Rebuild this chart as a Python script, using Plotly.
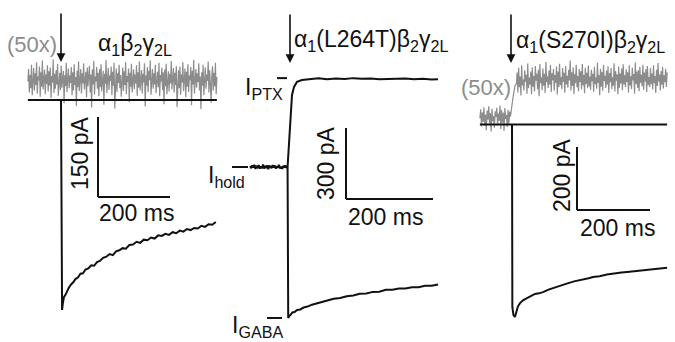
import numpy as np
import plotly.graph_objects as go

W, H = 675, 342

# ---------------- data (time in ms, current in pA) ----------------
# Panel 1: alpha1 beta2 gamma2L  (grey = 50x amplified record)
p1_gray_i = [35,58,14,47,22,66,9,41,60,18,50,28,71,12,44,37,63,6,52,25,74,20,39,57,11,48,30,65,16,54,
             27,61,4,45,33,76,13,49,21,56,29,68,8,42,51,19,64,23,38,55,-6,47,26,70,15,40,59,22,46,32,
             62,9,52,18,67,28,43,-11,55,24,72,17,36,58,12,50,31,69,20,45,53,5,61,26,41,64,14,48,-14,57,
             29,73,10,44,35,62,21,51,7,58,24,67,16,39,55,-9,49,30,75,13,42,60,19,46,36,63,9,53,27,70,
             -16,40,59,15,50,32,66,22,47,6,38,61,17,54,28,71,11,45,34,59,-4,51,25,68,14,43,57,20,48,31,
             65,8,52,23,72,18,41,56,12,49,33,69,-12,46,27,62,15,55,37,74,10,44,58,21,50,29,66,13,40,53,
             24,70,7,47,35,61,19,52,-8,57,26,68,11,43,54,16,49,31,73,20,38,60,14,51,28,64,-13,45,56,22,
             63,10,48,33,71,17,42,59,5,53,25,67,15,46,37,62,-10,55,29,75,12,41,58,23,50,34,69,18,44,-17,
             52,27,66,9,39,61,21,48,36,72,14,56,30,-5,45,63,18,51,26,70,11,43]
p1_gray_span = [-92, 433]
p1_base_span = [-92, 433]
p1_t = [0, 3, 5, 8, 12, 17, 22, 28, 34, 40, 47, 54, 61, 68, 76, 84, 92, 100, 108, 117, 126, 135, 144,
        153, 162, 171, 180, 190, 200, 210, 220, 230, 240, 250, 260, 270, 280, 290, 300, 310, 320,
        330, 340, 350, 360, 370, 380, 390, 400, 410, 420, 430]
p1_i = [0, -394, -382, -370, -366, -358, -352, -346, -342, -336, -333, -326, -325, -318, -316, -310,
        -311, -304, -302, -296, -294, -289, -291, -284, -282, -278, -279, -272, -271, -266, -268,
        -262, -263, -258, -260, -254, -255, -251, -253, -248, -250, -245, -247, -242, -244, -240,
        -241, -236, -238, -233, -234, -229]

# Panel 2: alpha1(L264T) beta2 gamma2L
p2_hold_i = [4,-5,7,-3,9,-8,5,-1,8,-7,3,-6,10,-6,2,-4,7,-9,6,0,-5,8,-2,6,-7,4,-3,9,-6,1,-8,5,-2,7,-4,2]
p2_hold_span = [-87, -1]
p2_gaba_t = [-1, 0.5, 3, 6, 10, 15, 21, 28, 36, 45, 55, 65, 75, 90, 105, 120, 135, 150, 165, 180, 195,
             210, 225, 240, 255, 270, 285, 300, 315, 330, 345]
p2_gaba_i = [0, -637, -628, -624, -614, -612, -603, -601, -593, -589, -581, -576, -569, -564, -556,
             -553, -545, -542, -535, -534, -527, -526, -518, -518, -513, -513, -507, -507, -501,
             -501, -496]
p2_ptx_t = [-1, 2.3, 4.6, 6.9, 9.2, 13.8, 20.7, 32, 51, 70, 90, 110, 130, 150, 170, 190, 210, 230,
            250, 270, 290, 310, 330, 345]
p2_ptx_i = [0, 114, 198, 262, 304, 338, 359, 367, 371, 374, 370, 373, 371, 375, 372, 373, 370, 372,
            371, 373, 370, 372, 369, 370]
p2_levels = {"PTX": 375, "hold": 0, "GABA": -637}

# Panel 3: alpha1(S270I) beta2 gamma2L  (grey = 50x amplified record)
p3_gray_pre = [20,48,-6,39,8,55,-2,32,-18,44,15,58,3,36,-22,50,10,27,-10,42,
               24,53,-4,35,12,60,-14,46,6,38,-20,52,18,30,-8,47,2,41,26,57]
p3_gray_pre_span = [-88, -2]
p3_gray_rise_t = [0, 4, 8]
p3_gray_rise = [62, 95, 122]
p3_gray_post = [130,165,102,180,118,152,92,188,124,143,108,172,136,158,98,194,115,148,127,168,
                96,182,120,154,105,186,139,162,112,174,90,192,131,150,109,178,123,161,100,198,
                134,153,116,171,126,189,103,163,141,176,107,157,133,184,95,168,119,193,125,151,
                113,179,136,164,101,186,127,155,117,173,140,203,108,166,122,181,97,160,131,190,
                118,154,106,176,135,169,111,192,124,158,99,180,129,164,115,187,121,152,110,174,
                137,161,104,183,128,149,114,196,132,157,93,177,120,167,107,189,138,155,116,171,
                126,185,100,163,134,179,112,150,123,194,105,170,139,159,96,184,117,162,130,178,
                109,191,127,156,119,175,135,166,102,188,124,153,113,181,140,160,98,197,129,168,
                116,172,106,183,133,158,121,190,110,165,137,176,103,186,125,151,118,179,128,162,
                111,188,131,154,100,174,122,195,136,159,108,170,126,183,114,156,134,177,119,166]
p3_gray_post_span = [12, 425]
p3_base_span = [-88, 425]
p3_t = [0, 1, 4, 8, 12, 16, 22, 30, 41, 52, 63, 74, 85, 100, 115, 132, 150, 170, 190, 210, 222, 240,
        260, 280, 300, 315, 335, 355, 375, 395, 410, 425]
p3_i = [0, -580, -605, -611, -595, -578, -567, -558, -551, -545, -538, -536, -532, -524, -518, -510,
        -505, -498, -494, -488, -484, -482, -476, -474, -470, -468, -466, -462, -461, -458, -458,
        -455]

# scale bars (ms, pA)
scale_ms = [200, 200, 200]
scale_pa = [150, 300, 200]

# ---------------- layout geometry (pixel mapping per panel) ----------------
geom = [
    dict(x0=61, sx=0.36, y0=100, sy=0.533),
    dict(x0=288, sx=0.435, y0=167, sy=0.237),
    dict(x0=512, sx=0.365, y0=124.5, sy=0.315),
]
bar_corner_px = [(98, 197), (346, 199), (577, 210)]

BLACK = "#111111"
GRAY = "#8c8c8c"
FONT = "Liberation Sans, Arial, sans-serif"

fig = go.Figure()

def ax(k):
    return ("x" if k == 0 else f"x{k+1}"), ("y" if k == 0 else f"y{k+1}")

def to_data(k, px, py):
    g = geom[k]
    return (px - g["x0"]) / g["sx"], (g["y0"] - py) / g["sy"]

def line(k, t, i, color=BLACK, width=2):
    xa, ya = ax(k)
    fig.add_trace(go.Scatter(x=t, y=i, mode="lines", xaxis=xa, yaxis=ya,
                             line=dict(color=color, width=width), hoverinfo="skip",
                             showlegend=False))

# panel 1
line(0, np.linspace(p1_gray_span[0], p1_gray_span[1], len(p1_gray_i)), p1_gray_i, GRAY, 1.2)
line(0, p1_base_span, [0, 0])
line(0, p1_t, p1_i)

# panel 2
hold_t = list(np.linspace(p2_hold_span[0], p2_hold_span[1], len(p2_hold_i)))
line(1, hold_t, p2_hold_i, width=2)
line(1, p2_gaba_t, p2_gaba_i)
line(1, p2_ptx_t, p2_ptx_i)

# panel 3
g3_t = (list(np.linspace(p3_gray_pre_span[0], p3_gray_pre_span[1], len(p3_gray_pre)))
        + p3_gray_rise_t
        + list(np.linspace(p3_gray_post_span[0], p3_gray_post_span[1], len(p3_gray_post))))
line(2, g3_t, p3_gray_pre + p3_gray_rise + p3_gray_post, GRAY, 1.2)
line(2, p3_base_span, [0, 0])
line(2, p3_t, p3_i)

shapes = []
annotations = []

# scale bars
for k in range(3):
    xa, ya = ax(k)
    ct, ci = to_data(k, *bar_corner_px[k])
    shapes.append(dict(type="line", xref=xa, yref=ya, x0=ct, x1=ct, y0=ci, y1=ci + scale_pa[k],
                       line=dict(color=BLACK, width=2)))
    shapes.append(dict(type="line", xref=xa, yref=ya, x0=ct, x1=ct + scale_ms[k], y0=ci, y1=ci,
                       line=dict(color=BLACK, width=2)))

# level markers in panel 2
lvl_px = {"PTX": (277, 287), "hold": (232, 248), "GABA": (267, 282)}
for name, (a, b) in lvl_px.items():
    ta, _ = to_data(1, a, 0)
    tb, _ = to_data(1, b, 0)
    shapes.append(dict(type="line", xref="x2", yref="y2", x0=ta, x1=tb,
                       y0=p2_levels[name], y1=p2_levels[name], line=dict(color=BLACK, width=2)))

# application arrows
arrow_px = [(61, 12, 62), (290, 13, 63), (511, 13, 63)]
for k, (px, ptop, ptip) in enumerate(arrow_px):
    xa, ya = ax(k)
    t, itip = to_data(k, px, ptip)
    _, itop = to_data(k, px, ptop)
    annotations.append(dict(x=t, y=itip, ax=t, ay=itop, xref=xa, yref=ya, axref=xa, ayref=ya,
                            text="", showarrow=True, arrowhead=2, arrowsize=1.1, arrowwidth=1.6,
                            arrowcolor=BLACK))

def txt(s, px, py, size=23, color=BLACK, xanchor="center", yanchor="middle", angle=0):
    annotations.append(dict(text=s, x=px / W, y=1 - py / H, xref="paper", yref="paper",
                            showarrow=False, xanchor=xanchor, yanchor=yanchor, textangle=angle,
                            font=dict(family=FONT, size=size, color=color)))

txt("(50x)", 32, 45, size=22, color=GRAY)
txt("α<sub>1</sub>β<sub>2</sub>γ<sub>2L</sub>", 96, 45, xanchor="left")
txt("α<sub>1</sub>(L264T)β<sub>2</sub>γ<sub>2L</sub>", 292, 41, xanchor="left")
txt("α<sub>1</sub>(S270I)β<sub>2</sub>γ<sub>2L</sub>", 514, 42, xanchor="left")
txt("(50x)", 486, 87, size=22, color=GRAY)

txt("150 pA", 80, 153, angle=-90)
txt("200 ms", 136, 213)
txt("300 pA", 326, 163, angle=-90)
txt("200 ms", 385, 217)
txt("200 pA", 562, 175, angle=-90)
txt("200 ms", 617, 228)

txt("I<sub>PTX</sub>", 243, 88, xanchor="left")
txt("I<sub>hold</sub>", 206, 176, xanchor="left")
txt("I<sub>GABA</sub>", 230, 326, xanchor="left")

layout = dict(width=W, height=H, margin=dict(l=0, r=0, t=0, b=0),
              paper_bgcolor="white", plot_bgcolor="rgba(0,0,0,0)",
              shapes=shapes, annotations=annotations, showlegend=False)
for k in range(3):
    g = geom[k]
    xr = [-g["x0"] / g["sx"], (W - g["x0"]) / g["sx"]]
    yr = [(g["y0"] - H) / g["sy"], g["y0"] / g["sy"]]
    xn = "xaxis" if k == 0 else f"xaxis{k+1}"
    yn = "yaxis" if k == 0 else f"yaxis{k+1}"
    xa, ya = ax(k)
    layout[xn] = dict(domain=[0, 1], range=xr, visible=False, fixedrange=True, anchor=ya)
    layout[yn] = dict(domain=[0, 1], range=yr, visible=False, fixedrange=True, anchor=xa)

fig.update_layout(**layout)
fig.write_html("out.html", config={"displayModeBar": False},
               post_script="document.body.style.margin='0';document.body.style.overflow='hidden';")
